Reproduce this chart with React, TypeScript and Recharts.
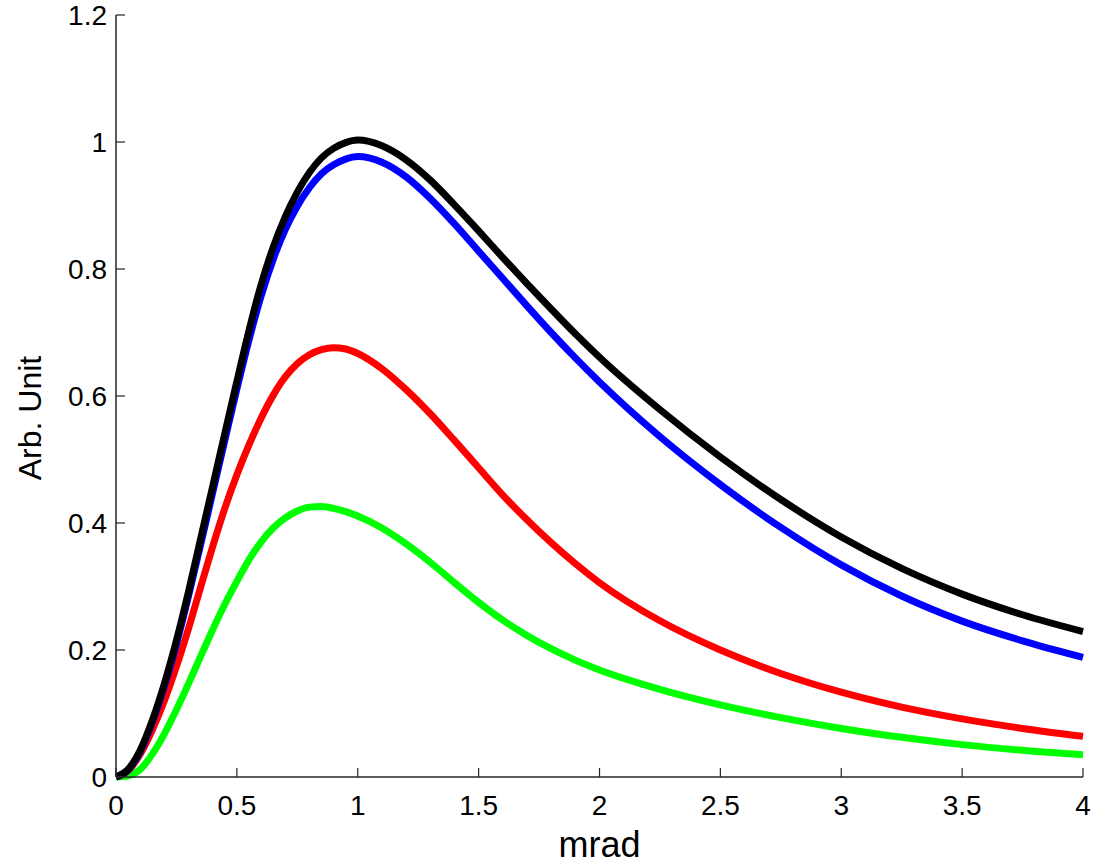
import React from 'react';
import { LineChart, Line, XAxis, YAxis, Label } from 'recharts';

const xValues = [0, 0.05, 0.1, 0.15, 0.2, 0.25, 0.3, 0.35, 0.4, 0.45, 0.5, 0.55, 0.6, 0.65, 0.7, 0.75, 0.8, 0.85, 0.9, 0.95, 1.0, 1.1, 1.2, 1.3, 1.4, 1.5, 1.6, 1.7, 1.8, 1.9, 2.0, 2.25, 2.5, 2.75, 3.0, 3.25, 3.5, 3.75, 4.0];

const blackValues = [0, 0.012, 0.042, 0.089, 0.147, 0.215, 0.292, 0.375, 0.458, 0.541, 0.623, 0.703, 0.775, 0.834, 0.882, 0.921, 0.952, 0.975, 0.99, 0.999, 1.003, 0.994, 0.972, 0.94, 0.901, 0.86, 0.818, 0.777, 0.737, 0.698, 0.661, 0.5785, 0.504, 0.437, 0.378, 0.3285, 0.288, 0.2555, 0.229];

const blueValues = [0, 0.011, 0.04, 0.086, 0.143, 0.209, 0.285, 0.366, 0.448, 0.53, 0.611, 0.688, 0.757, 0.815, 0.862, 0.899, 0.928, 0.95, 0.964, 0.973, 0.977, 0.968, 0.945, 0.911, 0.871, 0.828, 0.785, 0.742, 0.7, 0.66, 0.622, 0.536, 0.4605, 0.393, 0.334, 0.285, 0.2455, 0.2145, 0.1885];

const redValues = [0, 0.01, 0.036, 0.074, 0.12, 0.174, 0.234, 0.299, 0.363, 0.423, 0.476, 0.523, 0.565, 0.601, 0.63, 0.651, 0.665, 0.673, 0.676, 0.674, 0.667, 0.643, 0.61, 0.572, 0.53, 0.487, 0.444, 0.405, 0.369, 0.336, 0.306, 0.246, 0.2, 0.163, 0.1335, 0.11, 0.0915, 0.0765, 0.064];

const greenValues = [0, 0.002, 0.012, 0.036, 0.068, 0.106, 0.147, 0.19, 0.232, 0.272, 0.308, 0.342, 0.37, 0.392, 0.408, 0.419, 0.425, 0.426, 0.423, 0.418, 0.411, 0.392, 0.367, 0.338, 0.306, 0.275, 0.247, 0.223, 0.202, 0.184, 0.1685, 0.138, 0.1135, 0.0935, 0.0765, 0.0625, 0.051, 0.042, 0.035];

const xTicks = [0, 0.5, 1, 1.5, 2, 2.5, 3, 3.5, 4];
const yTicks = [0, 0.2, 0.4, 0.6, 0.8, 1, 1.2];

const data = xValues.map((x, i) => ({
  x,
  black: blackValues[i],
  blue: blueValues[i],
  red: redValues[i],
  green: greenValues[i],
}));

const FONT = '"Liberation Sans", Arial, Helvetica, sans-serif';
const axisColor = '#262626';

export default function App() {
  return (
    <div style={{ position: 'absolute', left: 0, top: 0, width: 1106, height: 866, background: '#fff', fontFamily: FONT }}>
      <LineChart width={1106} height={866} data={data} margin={{ top: 15, right: 23, bottom: 0, left: 0 }}>
        <XAxis
          dataKey="x"
          type="number"
          domain={[0, 4]}
          ticks={xTicks}
          interval={0}
          height={89}
          tickSize={-9}
          tickMargin={27}
          axisLine={{ stroke: axisColor, strokeWidth: 1.5 }}
          tickLine={{ stroke: axisColor, strokeWidth: 1.2 }}
          tick={{ fill: '#000', fontSize: 28, fontFamily: FONT }}
          tickFormatter={(v: number) => String(v)}
        >
          <Label value="mrad" position="center" dy={23} style={{ fontSize: 36, fontFamily: FONT, fill: '#000' }} />
        </XAxis>
        <YAxis
          type="number"
          domain={[0, 1.2]}
          ticks={yTicks}
          interval={0}
          width={116}
          tickSize={-9}
          tickMargin={18}
          axisLine={{ stroke: axisColor, strokeWidth: 1.5 }}
          tickLine={{ stroke: axisColor, strokeWidth: 1.2 }}
          tick={{ fill: '#000', fontSize: 28, fontFamily: FONT }}
          tickFormatter={(v: number) => String(v)}
        >
          <Label value="Arb. Unit" angle={-90} position="center" dx={-28} dy={22} style={{ fontSize: 32, fontFamily: FONT, fill: '#000' }} />
        </YAxis>
        <Line type="monotone" dataKey="green" stroke="#00ff00" strokeWidth={7} dot={false} isAnimationActive={false} />
        <Line type="monotone" dataKey="red" stroke="#ff0000" strokeWidth={7} dot={false} isAnimationActive={false} />
        <Line type="monotone" dataKey="blue" stroke="#0000ff" strokeWidth={7} dot={false} isAnimationActive={false} />
        <Line type="monotone" dataKey="black" stroke="#000000" strokeWidth={7} dot={false} isAnimationActive={false} />
      </LineChart>
    </div>
  );
}
